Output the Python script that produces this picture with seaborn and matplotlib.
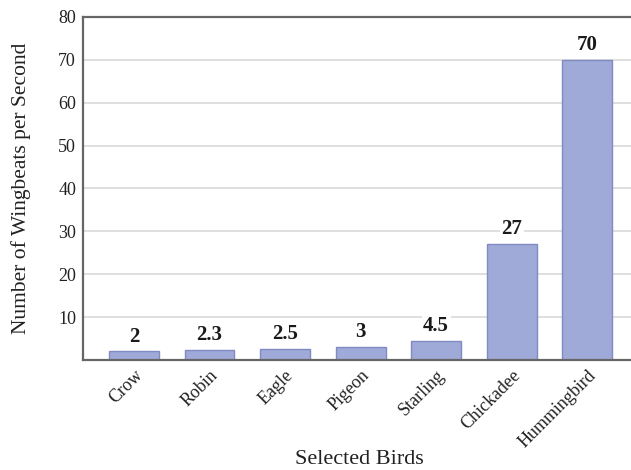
import matplotlib
matplotlib.use("Agg")
import matplotlib.pyplot as plt
import seaborn as sns
import pandas as pd

birds = ["Crow", "Robin", "Eagle", "Pigeon", "Starling", "Chickadee", "Hummingbird"]
wingbeats = [2, 2.3, 2.5, 3, 4.5, 27, 70]
value_labels = ["2", "2.3", "2.5", "3", "4.5", "27", "70"]
y_ticks = [10, 20, 30, 40, 50, 60, 70, 80]

sns.set_theme(style="white")
plt.rcParams["font.family"] = ["Liberation Serif", "DejaVu Serif"]

df = pd.DataFrame({"bird": birds, "wingbeats": wingbeats})

fig = plt.figure(figsize=(6.31, 4.70), dpi=100)
ax = fig.add_axes([0.1315, 0.234, 0.8685, 0.730])

sns.barplot(data=df, x="bird", y="wingbeats", ax=ax, color="#9faad9",
            edgecolor="#7f8bc2", linewidth=1.0, width=0.66, saturation=1)

ax.set_ylim(0, 80)
ax.set_xlim(-0.675, 6.58)
ax.set_yticks(y_ticks)
ax.set_yticklabels([str(t) for t in y_ticks], fontsize=13, color="#222222")
for t in y_ticks[:-1]:
    ax.axhline(t, color="#d9d9d9", linewidth=1.2, zorder=0)
ax.set_axisbelow(True)

ax.set_xticks(range(len(birds)))
ax.set_xticklabels(birds, rotation=45, ha="right", rotation_mode="anchor",
                   fontsize=13, color="#222222")
ax.tick_params(axis="y", length=0, pad=5)
ax.tick_params(axis="x", length=0, pad=5)

for i, (v, lab) in enumerate(zip(wingbeats, value_labels)):
    ax.annotate(lab, (i, v), xytext=(0, 3.5), textcoords="offset points",
                ha="center", va="bottom", fontsize=15, fontweight="bold",
                color="#1a1a1a",
                bbox=dict(boxstyle="square,pad=0.08", fc="white", ec="none"))

for s in ["left", "top", "bottom"]:
    ax.spines[s].set_color("#666666")
    ax.spines[s].set_linewidth(1.6)
ax.spines["right"].set_visible(False)

ax.set_xlabel("Selected Birds", fontsize=16, color="#222222", va="top")
ax.set_ylabel("Number of Wingbeats per Second", fontsize=15.5, color="#222222")
ax.xaxis.set_label_coords(0.504, -0.262)
ax.yaxis.set_label_coords(-0.094, 0.5)

fig.savefig("out.png", dpi=100)
